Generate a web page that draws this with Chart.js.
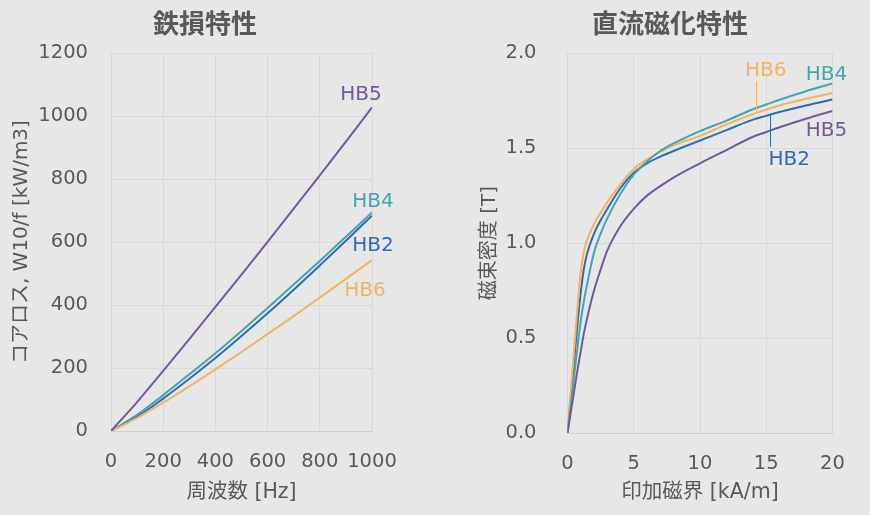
<!DOCTYPE html>
<html>
<head>
<meta charset="utf-8">
<script src="https://cdn.jsdelivr.net/npm/chart.js@4/dist/chart.umd.min.js"></script>
<style>
  body { margin: 0; background: #e7e7e7; }
  #wrap { position: relative; width: 870px; height: 515px; overflow: hidden; }
  #left { position: absolute; left: 0; top: 0; }
  #right { position: absolute; left: 470px; top: 0; }
</style>
</head>
<body>
<div id="wrap">
  <canvas id="left" width="410" height="515"></canvas>
  <canvas id="right" width="400" height="515"></canvas>
</div>
<script>
// iron loss vs frequency
var freq = [0, 100, 200, 300, 400, 500, 600, 700, 800, 900, 1000];
var lossHB5 = [0, 92, 191, 292, 394, 497, 601, 706, 812, 919, 1028];
var lossHB4 = [0, 51, 114, 180, 247, 318, 391, 465, 540, 617, 694];
var lossHB2 = [0, 45, 103, 166, 232, 302, 374, 449, 526, 604, 684];
var lossHB6 = [0, 42, 90, 142, 196, 251, 308, 365, 424, 483, 543];
var lossTicks = [0, 200, 400, 600, 800, 1000, 1200];

// DC magnetization (B-H)
var field = [0, 0.25, 0.5, 0.75, 1, 1.25, 1.5, 2, 2.5, 3, 4, 5, 6, 7, 8, 10, 12, 14, 15, 16, 18, 20];
var bHB6 = [0, 0.22, 0.44, 0.66, 0.85, 0.96, 1.02, 1.10, 1.16, 1.215, 1.31, 1.39, 1.44, 1.48, 1.515, 1.565, 1.625, 1.68, 1.703, 1.725, 1.76, 1.79];
var bHB2 = [0, 0.19, 0.38, 0.57, 0.74, 0.87, 0.95, 1.05, 1.12, 1.18, 1.29, 1.37, 1.42, 1.455, 1.485, 1.54, 1.595, 1.65, 1.67, 1.69, 1.725, 1.756];
var bHB4 = [0, 0.15, 0.30, 0.45, 0.59, 0.70, 0.79, 0.95, 1.05, 1.13, 1.26, 1.36, 1.43, 1.485, 1.525, 1.59, 1.645, 1.705, 1.73, 1.755, 1.80, 1.84];
var bHB5 = [0, 0.11, 0.22, 0.33, 0.43, 0.53, 0.61, 0.75, 0.86, 0.96, 1.09, 1.18, 1.25, 1.30, 1.345, 1.42, 1.49, 1.56, 1.585, 1.61, 1.655, 1.696];
var bTicks = [0, 0.5, 1.0, 1.5, 2.0];

var C_HB5 = '#73599c', C_HB4 = '#43a5b0', C_HB2 = '#2f6bb3', C_HB6 = '#f4b35e';
var TXT = '#595959';
var FONT = "'DejaVu Sans', 'Noto Sans CJK JP', sans-serif";

function pts(xs, ys) {
  return xs.map(function (x, i) { return {x: x, y: ys[i]}; });
}

function ds(label, xs, ys, color) {
  return {label: label, data: pts(xs, ys), borderColor: color, backgroundColor: color,
    borderWidth: 2, pointRadius: 0, cubicInterpolationMode: 'monotone'};
}

// series name labels, placed relative to a point on each curve
function seriesLabels(items) {
  return {
    id: 'seriesLabels',
    afterDatasetsDraw: function (chart) {
      var ctx = chart.ctx, xs = chart.scales.x, ys = chart.scales.y;
      ctx.save();
      ctx.font = '20px ' + FONT;
      ctx.textAlign = 'center';
      ctx.textBaseline = 'middle';
      items.forEach(function (it) {
        var set = chart.data.datasets[it.ds];
        var d = set.data;
        var at = it.at === undefined ? d[d.length - 1].x : it.at;
        var v = d[d.length - 1].y;
        for (var i = 1; i < d.length; i++) {
          if (d[i].x >= at) {
            var t = (at - d[i - 1].x) / (d[i].x - d[i - 1].x);
            v = d[i - 1].y + t * (d[i].y - d[i - 1].y);
            break;
          }
        }
        var px = xs.getPixelForValue(at), py = ys.getPixelForValue(v);
        if (it.leader) {
          ctx.strokeStyle = set.borderColor;
          ctx.lineWidth = 1;
          ctx.beginPath();
          ctx.moveTo(Math.round(px) + 0.5, py);
          ctx.lineTo(Math.round(px) + 0.5, py + it.leader);
          ctx.stroke();
        }
        ctx.fillStyle = set.borderColor;
        ctx.fillText(set.label, px + it.dx, py + it.dy);
      });
      ctx.restore();
    }
  };
}

function baseOptions(titleText, xTitle, yTitle, cfg) {
  return {
    responsive: false,
    animation: false,
    layout: {padding: 0},
    plugins: {
      legend: {display: false},
      tooltip: {enabled: false},
      title: {display: true, text: titleText, color: TXT,
        font: {family: FONT, size: 26, weight: 'bold', lineHeight: 1.2},
        padding: {top: 11, bottom: 11}}
    },
    scales: {
      x: {
        type: 'linear', min: cfg.xMin, max: cfg.xMax,
        afterFit: function (s) { s.height = cfg.xHeight; s.paddingLeft = 0; s.paddingRight = cfg.right; },
        grid: {color: '#d9d9d9', drawTicks: false},
        border: {color: '#d0d0d0'},
        ticks: {stepSize: cfg.xStep, padding: 19, color: TXT, font: {family: FONT, size: 19.5},
          maxRotation: 0, autoSkip: false, callback: function (v) { return String(v); }},
        title: {display: true, text: xTitle, color: TXT, font: {family: FONT, size: 20.5},
          padding: {top: 0, bottom: 10}}
      },
      y: {
        type: 'linear', min: cfg.yMin, max: cfg.yMax,
        afterFit: function (s) { s.width = cfg.yWidth; },
        afterBuildTicks: function (s) { s.ticks = cfg.yTicks.map(function (v) { return {value: v}; }); },
        grid: {color: '#d9d9d9', drawTicks: false},
        border: {color: '#d9d9d9'},
        ticks: {padding: cfg.yPad, color: TXT, font: {family: FONT, size: 19.5},
          callback: cfg.yFmt},
        title: {display: true, text: yTitle, color: TXT, font: {family: FONT, size: 20},
          padding: {top: cfg.yTitlePad, bottom: 0}}
      }
    }
  };
}

new Chart(document.getElementById('left'), {
  type: 'line',
  data: {datasets: [
    ds('HB5', freq, lossHB5, C_HB5),
    ds('HB6', freq, lossHB6, C_HB6),
    ds('HB2', freq, lossHB2, C_HB2),
    ds('HB4', freq, lossHB4, C_HB4)
  ]},
  options: baseOptions('鉄損特性', '周波数 [Hz]', 'コアロス, W10/f [kW/m3]', {
    right: 38, xMin: 0, xMax: 1000, xStep: 200, xHeight: 84,
    yMin: 0, yMax: 1200, yTicks: lossTicks, yWidth: 111, yPad: 23, yTitlePad: 10,
    yFmt: function (v) { return String(v); }
  }),
  plugins: [seriesLabels([
    {ds: 0, dx: -11, dy: -13},
    {ds: 3, dx: 1, dy: -11},
    {ds: 2, dx: 1, dy: 30},
    {ds: 1, dx: -7, dy: 31}
  ])]
});

new Chart(document.getElementById('right'), {
  type: 'line',
  data: {datasets: [
    ds('HB5', field, bHB5, C_HB5),
    ds('HB4', field, bHB4, C_HB4),
    ds('HB6', field, bHB6, C_HB6),
    ds('HB2', field, bHB2, C_HB2)
  ]},
  options: baseOptions('直流磁化特性', '印加磁界 [kA/m]', '磁束密度 [T]', {
    right: 37.5, xMin: 0, xMax: 20, xStep: 5, xHeight: 82,
    yMin: 0, yMax: 2, yTicks: bTicks, yWidth: 97.5, yPad: 31, yTitlePad: 8,
    yFmt: function (v) { return Number(v).toFixed(1); }
  }),
  plugins: [seriesLabels([
    {ds: 0, dx: -6, dy: 20},
    {ds: 1, dx: -6, dy: -9},
    {ds: 2, at: 14.2, dx: 10, dy: -42, leader: -32},
    {ds: 3, at: 15.3, dx: 19, dy: 45, leader: 32}
  ])]
});
</script>
</body>
</html>
